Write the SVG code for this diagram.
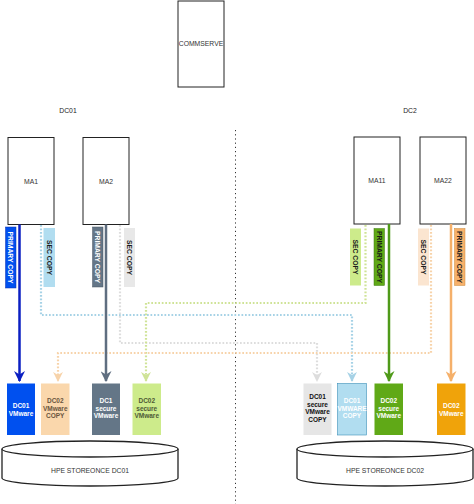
<svg xmlns="http://www.w3.org/2000/svg" width="474" height="504" viewBox="0 0 474 504">
<style>
  text { font-family: "Liberation Sans", Arial, sans-serif; }
  .node { fill: #ffffff; stroke: #222222; stroke-width: 1; }
  .nl { font-size: 6.8px; fill: #333333; text-anchor: middle; }
  .hdr { font-size: 6.8px; fill: #222222; text-anchor: middle; }
  .lab { font-size: 6.8px; font-weight: bold; text-anchor: middle; }
  .box { font-size: 6.5px; font-weight: bold; text-anchor: middle; }
  .solid { fill: none; stroke-width: 2.5; }
  .dot { fill: none; stroke-width: 2.2; stroke-dasharray: 1.7 1.8; }
  .cyl { fill: #ffffff; stroke: #222222; stroke-width: 1.3; }
</style>
<defs>
  <marker id="aBlue" viewBox="0 0 10 10" refX="9" refY="5" markerWidth="4.4" markerHeight="4.4" orient="auto" markerUnits="strokeWidth"><path d="M0,0 L10,5 L0,10 L3,5 Z" fill="#0b1fc2"/></marker>
  <marker id="aSlate" viewBox="0 0 10 10" refX="9" refY="5" markerWidth="4.4" markerHeight="4.4" orient="auto" markerUnits="strokeWidth"><path d="M0,0 L10,5 L0,10 L3,5 Z" fill="#5f6e80"/></marker>
  <marker id="aGreen" viewBox="0 0 10 10" refX="9" refY="5" markerWidth="4.4" markerHeight="4.4" orient="auto" markerUnits="strokeWidth"><path d="M0,0 L10,5 L0,10 L3,5 Z" fill="#4f9a19"/></marker>
  <marker id="aOrange" viewBox="0 0 10 10" refX="9" refY="5" markerWidth="4.4" markerHeight="4.4" orient="auto" markerUnits="strokeWidth"><path d="M0,0 L10,5 L0,10 L3,5 Z" fill="#f5b06a"/></marker>
  <marker id="aLBlue" viewBox="0 0 10 10" refX="9" refY="5" markerWidth="4.5" markerHeight="4.5" orient="auto" markerUnits="strokeWidth"><path d="M0,0 L10,5 L0,10 L3,5 Z" fill="#a6d2e6"/></marker>
  <marker id="aGrey" viewBox="0 0 10 10" refX="9" refY="5" markerWidth="4.5" markerHeight="4.5" orient="auto" markerUnits="strokeWidth"><path d="M0,0 L10,5 L0,10 L3,5 Z" fill="#dddddd"/></marker>
  <marker id="aLGreen" viewBox="0 0 10 10" refX="9" refY="5" markerWidth="4.5" markerHeight="4.5" orient="auto" markerUnits="strokeWidth"><path d="M0,0 L10,5 L0,10 L3,5 Z" fill="#cfe397"/></marker>
  <marker id="aPeach" viewBox="0 0 10 10" refX="9" refY="5" markerWidth="4.5" markerHeight="4.5" orient="auto" markerUnits="strokeWidth"><path d="M0,0 L10,5 L0,10 L3,5 Z" fill="#f7d3aa"/></marker>
</defs>

<!-- divider -->
<line x1="235.5" y1="130" x2="235.5" y2="504" stroke="#333333" stroke-width="1" stroke-dasharray="1.2 3"/>

<text class="hdr" x="68" y="113">DC01</text>
<text class="hdr" x="410" y="113">DC2</text>

<g id="commserve">
  <rect class="node" x="178" y="1" width="46" height="86"/>
  <text class="nl" x="201" y="46">COMMSERVE</text>
</g>

<g id="ma1">
  <rect class="node" x="8" y="137.5" width="46" height="87"/>
  <text class="nl" x="31" y="184">MA1</text>
</g>
<g id="ma2">
  <rect class="node" x="83" y="137.5" width="46" height="87"/>
  <text class="nl" x="106" y="184">MA2</text>
</g>
<g id="ma11">
  <rect class="node" x="354" y="137" width="46" height="87"/>
  <text class="nl" x="377" y="183">MA11</text>
</g>
<g id="ma22">
  <rect class="node" x="420" y="137" width="46" height="87"/>
  <text class="nl" x="443" y="183">MA22</text>
</g>

<g id="connectors">
  <polyline class="dot" stroke="#a6d2e6" points="41,225 41,315 352,315 352,381" marker-end="url(#aLBlue)"/>
  <polyline class="dot" stroke="#dddddd" points="120,225 120,343 317,343 317,381" marker-end="url(#aGrey)"/>
  <polyline class="dot" stroke="#cfe397" points="365.5,225 365.5,303 146,303 146,381" marker-end="url(#aLGreen)"/>
  <polyline class="dot" stroke="#f7d3aa" points="431,225 431,353 58,353 58,381" marker-end="url(#aPeach)"/>
  <line class="solid" stroke="#0b1fc2" x1="19.5" y1="224.5" x2="19.5" y2="381" marker-end="url(#aBlue)"/>
  <line class="solid" stroke="#5f6e80" x1="106" y1="224.5" x2="106" y2="381" marker-end="url(#aSlate)"/>
  <line class="solid" stroke="#4f9a19" x1="389" y1="224" x2="389" y2="381" marker-end="url(#aGreen)"/>
  <line class="solid" stroke="#f5b06a" x1="451" y1="224" x2="451" y2="381" marker-end="url(#aOrange)"/>
</g>

<g id="ma1-primary-label">
  <rect x="5.5" y="227" width="10.5" height="61" fill="#0050ef" stroke="#0a2fb0" stroke-width="0.5"/>
  <text class="lab" fill="#ffffff" transform="translate(10.75,257.5) rotate(90)" y="2.4">PRIMARY COPY</text>
</g>
<g id="ma1-sec-label">
  <rect x="43.5" y="228" width="11.5" height="59" fill="#b1ddf0"/>
  <text class="lab" fill="#1a1a1a" transform="translate(49.25,257.5) rotate(90)" y="2.4">SEC COPY</text>
</g>
<g id="ma2-primary-label">
  <rect x="92.5" y="227" width="10.5" height="60" fill="#647687" stroke="#4a5766" stroke-width="0.5"/>
  <text class="lab" fill="#ffffff" transform="translate(97.75,257) rotate(90)" y="2.4">PRIMARY COPY</text>
</g>
<g id="ma2-sec-label">
  <rect x="124" y="228" width="11" height="59" fill="#e8e8e8"/>
  <text class="lab" fill="#1a1a1a" transform="translate(129.5,257.5) rotate(90)" y="2.4">SEC COPY</text>
</g>
<g id="ma11-sec-label">
  <rect x="350" y="228.5" width="11" height="57" fill="#cdeb8b"/>
  <text class="lab" fill="#1a1a1a" transform="translate(355.5,257) rotate(90)" y="2.4">SEC COPY</text>
</g>
<g id="ma11-primary-label">
  <rect x="374" y="228.5" width="10.5" height="57" fill="#60a917" stroke="#3f7a10" stroke-width="0.5"/>
  <text class="lab" fill="#1a1a1a" transform="translate(379.25,257) rotate(90)" y="2.4">PRIMARY COPY</text>
</g>
<g id="ma22-sec-label">
  <rect x="418" y="228.5" width="11" height="57" fill="#fbe5d0"/>
  <text class="lab" fill="#1a1a1a" transform="translate(423.5,257) rotate(90)" y="2.4">SEC COPY</text>
</g>
<g id="ma22-primary-label">
  <rect x="454.5" y="228.5" width="10.5" height="57" fill="#f7b16b" stroke="#c98a3c" stroke-width="0.5"/>
  <text class="lab" fill="#1a1a1a" transform="translate(459.75,257) rotate(90)" y="2.4">PRIMARY COPY</text>
</g>

<g id="dc01-vmware">
  <rect x="7" y="383.5" width="28" height="51.5" fill="#0050ef"/>
  <text class="box" fill="#ffffff" x="21" y="408">DC01</text>
  <text class="box" fill="#ffffff" x="21" y="415.5">VMware</text>
</g>
<g id="dc02-vmware-copy">
  <rect x="41" y="383.5" width="28.5" height="51.5" fill="#fad7ac"/>
  <text class="box" fill="#6a5540" x="55.25" y="403">DC02</text>
  <text class="box" fill="#6a5540" x="55.25" y="410.5">VMware</text>
  <text class="box" fill="#6a5540" x="55.25" y="418">COPY</text>
</g>
<g id="dc1-secure-vmware">
  <rect x="92" y="383.5" width="28" height="51.5" fill="#647687"/>
  <text class="box" fill="#ffffff" x="106" y="403">DC1</text>
  <text class="box" fill="#ffffff" x="106" y="410.5">secure</text>
  <text class="box" fill="#ffffff" x="106" y="418">VMware</text>
</g>
<g id="dc02-secure-vmware-left">
  <rect x="132.5" y="383.5" width="28.5" height="51.5" fill="#cdeb8b"/>
  <text class="box" fill="#4e5a36" x="146.75" y="403">DC02</text>
  <text class="box" fill="#4e5a36" x="146.75" y="410.5">secure</text>
  <text class="box" fill="#4e5a36" x="146.75" y="418">VMware</text>
</g>
<g id="dc01-secure-vmware-copy">
  <rect x="303.5" y="383.5" width="28" height="51.5" fill="#e6e6e6"/>
  <text class="box" fill="#111111" x="317.5" y="399">DC01</text>
  <text class="box" fill="#111111" x="317.5" y="406.5">secure</text>
  <text class="box" fill="#111111" x="317.5" y="414">VMware</text>
  <text class="box" fill="#111111" x="317.5" y="421.5">COPY</text>
</g>
<g id="dc01-vmware-copy">
  <rect x="337.5" y="383.5" width="29" height="51.5" fill="#b1ddf0" stroke="#3d8fb8" stroke-width="0.6"/>
  <text class="box" fill="#ffffff" x="352" y="403">DC01</text>
  <text class="box" fill="#ffffff" x="352" y="410.5">VMWARE</text>
  <text class="box" fill="#ffffff" x="352" y="418">COPY</text>
</g>
<g id="dc02-secure-vmware-right">
  <rect x="374.5" y="383.5" width="28.5" height="51.5" fill="#60a917"/>
  <text class="box" fill="#ffffff" x="388.75" y="403">DC02</text>
  <text class="box" fill="#ffffff" x="388.75" y="410.5">secure</text>
  <text class="box" fill="#ffffff" x="388.75" y="418">VMware</text>
</g>
<g id="dc02-vmware">
  <rect x="437" y="383.5" width="28.5" height="51.5" fill="#f0a30a"/>
  <text class="box" fill="#ffffff" x="451.25" y="408">DC02</text>
  <text class="box" fill="#ffffff" x="451.25" y="415.5">VMware</text>
</g>

<g id="storeonce-dc01">
  <path class="cyl" d="M2,449 A88,8 0 0 1 178,449 L178,478 A88,8 0 0 1 2,478 Z"/>
  <path class="cyl" fill="none" d="M2,449 A88,8 0 0 0 178,449"/>
  <text class="nl" fill="#222222" x="90" y="473">HPE STOREONCE DC01</text>
</g>
<g id="storeonce-dc02">
  <path class="cyl" d="M297,449 A88,8 0 0 1 473,449 L473,478 A88,8 0 0 1 297,478 Z"/>
  <path class="cyl" fill="none" d="M297,449 A88,8 0 0 0 473,449"/>
  <text class="nl" fill="#222222" x="385" y="473">HPE STOREONCE DC02</text>
</g>
</svg>
